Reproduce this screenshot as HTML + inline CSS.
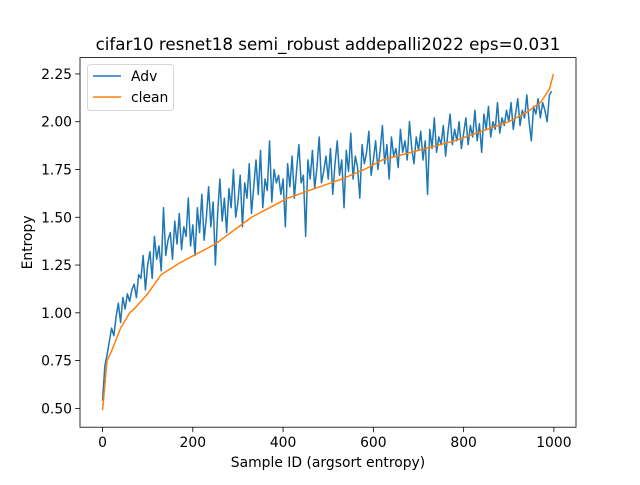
<!DOCTYPE html>
<html><head><meta charset="utf-8"><style>
body{margin:0;background:#fff}
svg{font-family:"DejaVu Sans","Liberation Sans",sans-serif}
</style></head><body>
<svg id="chart" width="640" height="480"></svg>
<script>
const xTicks=[0,200,400,600,800,1000];
const yTicks=[0.5,0.75,1.0,1.25,1.5,1.75,2.0,2.25];
const yTickLabels=["0.50","0.75","1.00","1.25","1.50","1.75","2.00","2.25"];
const advStep=5;
const advValues=[0.54,0.72,0.78,0.85,0.92,0.88,0.98,1.05,0.95,1.08,1.02,1.10,1.06,1.12,1.15,1.08,1.20,1.18,1.30,1.12,
1.25,1.32,1.18,1.40,1.28,1.35,1.22,1.55,1.30,1.38,1.42,1.28,1.48,1.36,1.52,1.33,1.45,1.40,1.60,1.35,
1.46,1.30,1.55,1.42,1.62,1.38,1.50,1.66,1.45,1.58,1.25,1.52,1.70,1.48,1.60,1.42,1.65,1.55,1.75,1.50,
1.58,1.72,1.45,1.68,1.60,1.78,1.52,1.66,1.80,1.62,1.85,1.55,1.70,1.64,1.90,1.58,1.75,1.68,1.72,1.62,
1.70,1.45,1.78,1.66,1.82,1.60,1.75,1.88,1.68,1.72,1.40,1.80,1.70,1.85,1.65,1.76,1.92,1.68,1.74,1.82,
1.70,1.86,1.62,1.78,1.90,1.72,1.80,1.55,1.85,1.74,1.94,1.70,1.82,1.76,1.60,1.88,1.78,1.84,1.95,1.72,
1.80,1.90,1.75,1.85,1.98,1.78,1.88,1.70,1.92,1.82,1.86,1.76,1.96,1.84,1.90,1.80,2.00,1.86,1.78,1.92,
1.85,1.95,1.80,1.90,1.62,1.96,1.86,2.02,1.84,1.92,1.88,1.98,1.82,1.94,2.04,1.88,1.96,1.90,2.00,1.86,
1.94,2.02,1.88,1.98,1.92,2.06,1.90,1.99,1.84,2.04,1.96,2.08,1.92,2.00,1.96,2.10,1.94,2.02,1.98,2.06,
2.00,2.10,1.96,2.04,2.12,1.98,2.06,2.02,2.14,2.00,1.90,2.08,2.04,2.12,2.02,2.10,2.06,2.00,2.14,2.16];
const cleanX=[0,5,10,20,40,60,70,100,130,170,210,250,290,330,370,410,470,530,580,620,700,780,840,900,940,970,990,999];
const cleanY=[0.49,0.62,0.75,0.80,0.92,1.0,1.02,1.10,1.20,1.26,1.31,1.36,1.43,1.50,1.55,1.60,1.65,1.70,1.75,1.80,1.85,1.90,1.95,2.00,2.05,2.10,2.17,2.25];

const L=80,R=576,T=57.6,B=427.2;
const xMin=-49.95,xMax=1048.95,yMin=0.4015,yMax=2.3355;
const sx=v=>L+(v-xMin)/(xMax-xMin)*(R-L);
const sy=v=>B-(v-yMin)/(yMax-yMin)*(B-T);
const svg=document.getElementById('chart');
const NS='http://www.w3.org/2000/svg';
function mk(tag,attrs,parent){const e=document.createElementNS(NS,tag);for(const k in attrs)e.setAttribute(k,attrs[k]);(parent||svg).appendChild(e);return e;}

let d='';advValues.forEach((v,i)=>{d+=(i?'L':'M')+sx(i*advStep).toFixed(2)+','+sy(v).toFixed(2);});
const adv=mk('path',{d:d,fill:'none',stroke:'#1f77b4','stroke-width':1.5,'stroke-linejoin':'round'});


let d2='';cleanX.forEach((x,i)=>{d2+=(i?'L':'M')+sx(x).toFixed(2)+','+sy(cleanY[i]).toFixed(2);});
const cl=mk('path',{d:d2,fill:'none',stroke:'#ff7f0e','stroke-width':1.5,'stroke-linejoin':'round'});



const fr=mk('rect',{x:L,y:T,width:R-L,height:B-T,fill:'none',stroke:'#000','stroke-width':0.8});



xTicks.forEach(t=>{
 const x=sx(t);
 mk('line',{x1:x,x2:x,y1:B,y2:B+4.9,stroke:'#000','stroke-width':0.8});
 const tx=mk('text',{x:x,y:B+20,'font-size':13.9,'text-anchor':'middle'});tx.textContent=t;
 
 
});
yTicks.forEach((t,i)=>{
 const y=sy(t);
 mk('line',{x1:L-4.9,x2:L,y1:y,y2:y,stroke:'#000','stroke-width':0.8});
 const tx=mk('text',{x:L-8,y:y+5,'font-size':13.9,'text-anchor':'end'});tx.textContent=yTickLabels[i];
 
 
});
const xt=mk('text',{x:(L+R)/2,y:467,'font-size':13.9,'text-anchor':'middle'});xt.textContent='Sample ID (argsort entropy)';


const yt=mk('text',{x:32,y:(T+B)/2,'font-size':13.9,'text-anchor':'middle',transform:'rotate(-90 32 '+((T+B)/2)+')'});yt.textContent='Entropy';


const ti=mk('text',{x:(L+R)/2,y:50,'font-size':16.7,'text-anchor':'middle'});ti.textContent='cifar10 resnet18 semi_robust addepalli2022 eps=0.031';



const lg=mk('g',{});


mk('rect',{x:87.5,y:64.5,width:86,height:46,rx:3,fill:'#fff',stroke:'#ccc','stroke-width':0.8},lg);
[['Adv','#1f77b4'],['clean','#ff7f0e']].forEach((e,i)=>{
 const y=76+i*21;
 const g=mk('g',{},lg);
 
 
 mk('line',{x1:93,x2:121,y1:y,y2:y,stroke:e[1],'stroke-width':1.5},g);
 const t=mk('text',{x:131,y:y+5,'font-size':13.9},g);t.textContent=e[0];
});
</script>
</body></html>
